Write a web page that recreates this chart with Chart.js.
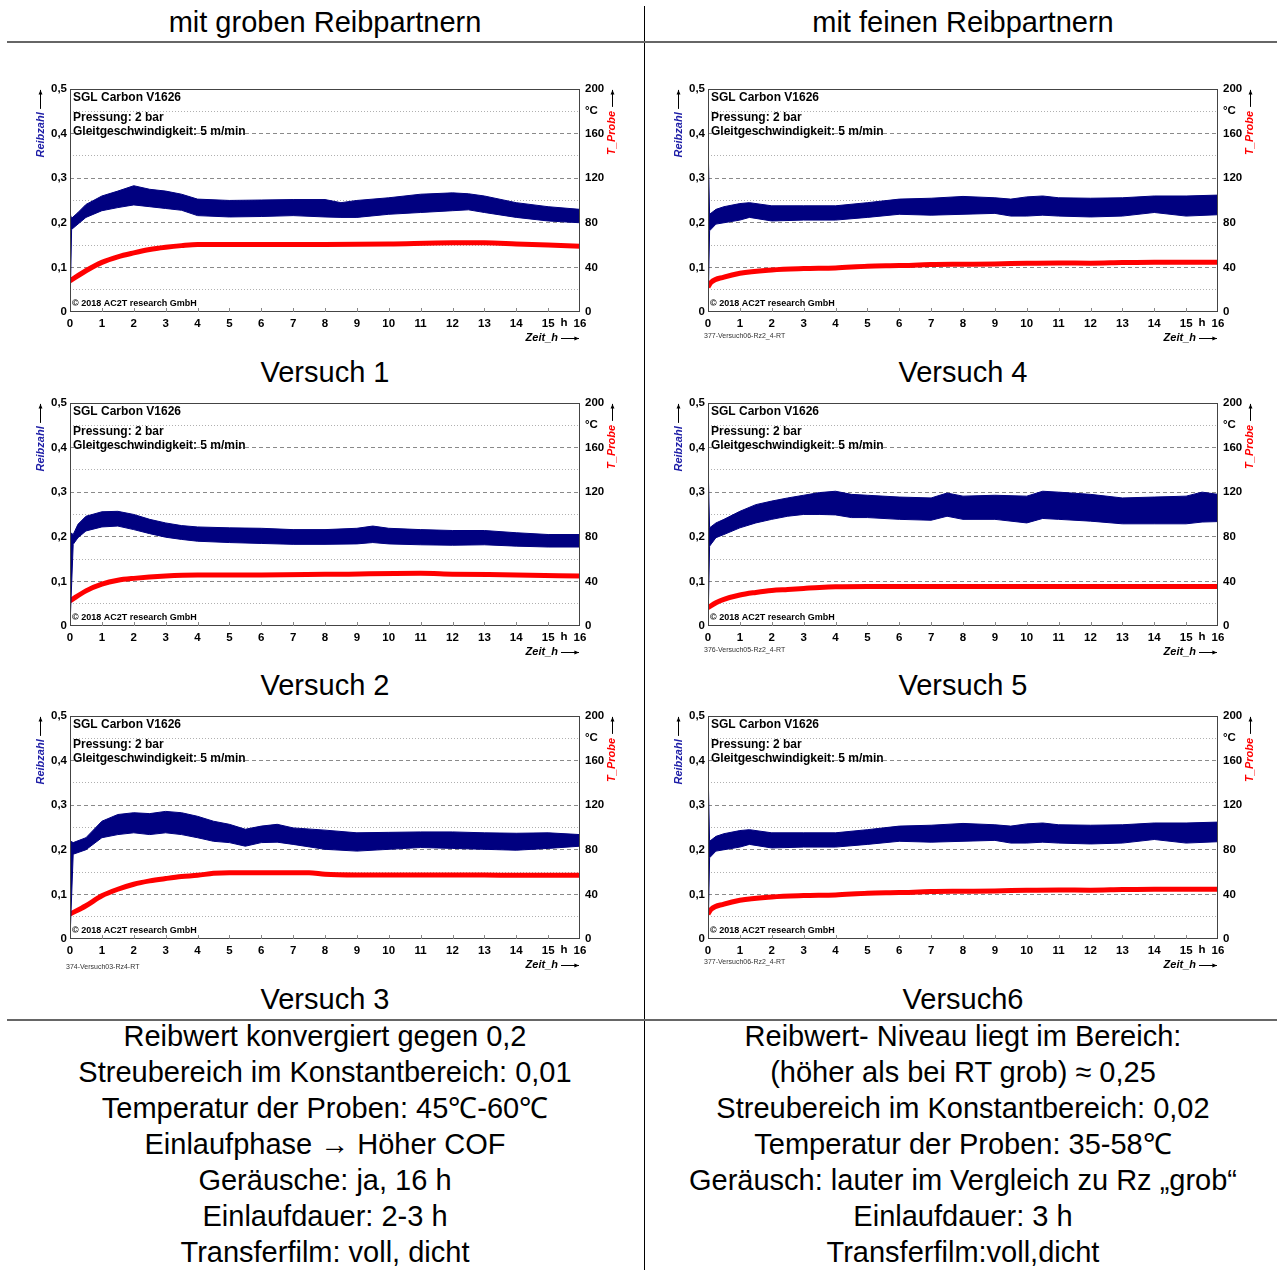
<!DOCTYPE html>
<html>
<head>
<meta charset="utf-8">
<script src="https://cdn.jsdelivr.net/npm/chart.js@4.4.0/dist/chart.umd.min.js"></script>
<style>
  body { margin: 0; background: #fff; font-family: "Liberation Sans", Arial, sans-serif; }
  #seite { position: relative; width: 1277px; height: 1270px; overflow: hidden; }
  .txt { position: absolute; text-align: center; font-size: 29px; line-height: 36px; color: #000; white-space: nowrap; }
  .links { left: 0; width: 650px; }
  .rechts { left: 644px; width: 638px; }
  .box { position: absolute; width: 600px; height: 272px; }
  .linie { position: absolute; background: #666; }
</style>
</head>
<body>
<div id="seite">
  <div class="linie" style="left:644px; top:6px; width:1px; height:1264px; background:#000;"></div>
  <div class="linie" style="left:7px; top:41px; width:1270px; height:2px;"></div>
  <div class="linie" style="left:7px; top:1019px; width:1270px; height:2px;"></div>

  <div class="txt links" style="top:4px;">mit groben Reibpartnern</div>
  <div class="txt rechts" style="top:4px;">mit feinen Reibpartnern</div>

  <div class="box" style="left:30px; top:77px;"><canvas id="v1" width="600" height="272"></canvas></div>
  <div class="box" style="left:30px; top:391px;"><canvas id="v2" width="600" height="272"></canvas></div>
  <div class="box" style="left:30px; top:704px;"><canvas id="v3" width="600" height="272"></canvas></div>
  <div class="box" style="left:668px; top:77px;"><canvas id="v4" width="600" height="272"></canvas></div>
  <div class="box" style="left:668px; top:391px;"><canvas id="v5" width="600" height="272"></canvas></div>
  <div class="box" style="left:668px; top:704px;"><canvas id="v6" width="600" height="272"></canvas></div>

  <div class="txt links" style="top:354px;">Versuch 1</div>
  <div class="txt links" style="top:667px;">Versuch 2</div>
  <div class="txt links" style="top:981px;">Versuch 3</div>
  <div class="txt rechts" style="top:354px;">Versuch 4</div>
  <div class="txt rechts" style="top:667px;">Versuch 5</div>
  <div class="txt rechts" style="top:981px;">Versuch6</div>

  <div class="txt links" style="top:1018px;">
    Reibwert konvergiert gegen 0,2<br>
    Streubereich im Konstantbereich: 0,01<br>
    Temperatur der Proben: 45℃-60℃<br>
    Einlaufphase → Höher COF<br>
    Geräusche: ja, 16 h<br>
    Einlaufdauer: 2-3 h<br>
    Transferfilm: voll, dicht
  </div>
  <div class="txt rechts" style="top:1018px;">
    Reibwert- Niveau liegt im Bereich:<br>
    (höher als bei RT grob) ≈ 0,25<br>
    Streubereich im Konstantbereich: 0,02<br>
    Temperatur der Proben: 35-58℃<br>
    Geräusch: lauter im Vergleich zu Rz „grob“<br>
    Einlaufdauer: 3 h<br>
    Transferfilm:voll,dicht
  </div>
</div>

<script>
// Versuch 1 - Reibzahl (Band oben/unten) und T_Probe in °C, Zeit in h
const zeitV1 = [0, 0.05, 0.25, 0.5, 1, 1.5, 2, 2.5, 3, 3.5, 4, 5, 6, 7, 8, 8.5, 9, 10, 11, 12, 12.5, 13, 14, 15, 16];
const maxV1 = [0.22, 0.21, 0.223, 0.241, 0.26, 0.271, 0.283, 0.275, 0.271, 0.264, 0.253, 0.25, 0.251, 0.252, 0.252, 0.245, 0.25, 0.256, 0.264, 0.267, 0.265, 0.26, 0.245, 0.236, 0.23];
const minV1 = [0, 0.185, 0.197, 0.212, 0.227, 0.234, 0.24, 0.236, 0.232, 0.228, 0.216, 0.213, 0.214, 0.216, 0.213, 0.212, 0.212, 0.219, 0.223, 0.227, 0.229, 0.223, 0.212, 0.204, 0.2];
const tZeitV1 = [0, 0.5, 1, 1.5, 2, 2.5, 3, 3.5, 4, 6, 8, 10, 12, 13, 14, 15, 16];
const tempV1 = [28, 37, 44.5, 49.5, 53, 56, 58, 59.5, 60.5, 60.5, 60.5, 61, 62, 62, 61, 60, 59];

// Versuch 2
const zeitV2 = [0, 0.1, 0.25, 0.5, 1, 1.5, 2, 2.5, 3, 3.5, 4, 5, 6, 7, 8, 9, 9.5, 10, 11, 12, 13, 14, 15, 16];
const maxV2 = [0.21, 0.205, 0.228, 0.246, 0.256, 0.257, 0.25, 0.239, 0.231, 0.225, 0.222, 0.22, 0.219, 0.216, 0.216, 0.219, 0.224, 0.219, 0.216, 0.214, 0.214, 0.209, 0.205, 0.205];
const minV2 = [0, 0.183, 0.198, 0.213, 0.222, 0.224, 0.216, 0.207, 0.199, 0.194, 0.19, 0.187, 0.185, 0.183, 0.183, 0.184, 0.187, 0.184, 0.182, 0.181, 0.182, 0.179, 0.177, 0.177];
const tZeitV2 = [0, 0.5, 1, 1.5, 2, 3, 4, 6, 8, 11, 12, 14, 16];
const tempV2 = [22.5, 31.5, 37.5, 41, 42.7, 44.8, 45.7, 45.8, 46.3, 47.2, 46.5, 45.8, 44.8];

// Versuch 3
const zeitV3 = [0, 0.1, 0.5, 1, 1.5, 2, 2.5, 3, 3.5, 4, 4.5, 5, 5.5, 6, 6.5, 7, 8, 9, 10, 11, 12, 13, 14, 15, 16];
const maxV3 = [0.22, 0.216, 0.227, 0.264, 0.279, 0.283, 0.281, 0.286, 0.283, 0.275, 0.264, 0.257, 0.246, 0.253, 0.257, 0.249, 0.244, 0.238, 0.239, 0.24, 0.24, 0.238, 0.237, 0.238, 0.234];
const minV3 = [0, 0.19, 0.2, 0.227, 0.234, 0.238, 0.234, 0.238, 0.234, 0.227, 0.219, 0.216, 0.208, 0.216, 0.217, 0.212, 0.201, 0.197, 0.201, 0.205, 0.203, 0.201, 0.199, 0.203, 0.208];
const tZeitV3 = [0, 0.5, 1, 1.5, 2, 2.5, 3, 3.5, 4, 4.5, 5, 7.5, 8, 9, 13, 14, 16];
const tempV3 = [22.3, 29.8, 38.7, 44.6, 49.1, 52.1, 54.2, 56, 57.1, 58.9, 59.5, 59.5, 58, 57.4, 57.4, 57.1, 57.1];

// Versuch 4 (Versuch6 zeigt dieselbe Messung)
const zeitV4 = [0, 0.05, 0.25, 0.5, 1, 1.3, 2, 3, 4, 5, 6, 7, 8, 9, 9.5, 10, 10.5, 11, 12, 13, 14, 15, 16];
const maxV4 = [0.386, 0.219, 0.23, 0.236, 0.243, 0.245, 0.238, 0.238, 0.238, 0.245, 0.253, 0.255, 0.259, 0.256, 0.253, 0.258, 0.26, 0.256, 0.255, 0.256, 0.26, 0.26, 0.262];
const minV4 = [0, 0.182, 0.197, 0.2, 0.206, 0.212, 0.204, 0.206, 0.206, 0.212, 0.219, 0.217, 0.219, 0.221, 0.215, 0.215, 0.217, 0.215, 0.213, 0.215, 0.223, 0.215, 0.218];
const tZeitV4 = [0, 0.1, 0.5, 1, 2, 3, 4, 5, 6, 7, 8, 9, 10, 11, 12, 13, 14, 16];
const tempV4 = [22.3, 26.7, 31.2, 34.8, 37.7, 38.9, 39.5, 41, 41.6, 42.5, 42.8, 43.1, 43.7, 44, 43.8, 44.3, 44.6, 44.6];

// Versuch 5
const zeitV5 = [0, 0.05, 0.25, 0.5, 1, 1.5, 2, 2.5, 3, 3.5, 4, 4.5, 5, 6, 7, 7.5, 8, 9, 10, 10.5, 11, 12, 13, 14, 15, 15.5, 16];
const maxV5 = [0.37, 0.22, 0.231, 0.239, 0.257, 0.272, 0.28, 0.287, 0.293, 0.299, 0.302, 0.295, 0.293, 0.289, 0.287, 0.298, 0.291, 0.293, 0.291, 0.302, 0.3, 0.295, 0.287, 0.289, 0.291, 0.3, 0.295];
const minV5 = [0, 0.179, 0.198, 0.205, 0.22, 0.231, 0.239, 0.246, 0.25, 0.25, 0.249, 0.243, 0.243, 0.239, 0.237, 0.246, 0.239, 0.239, 0.231, 0.241, 0.239, 0.235, 0.229, 0.229, 0.229, 0.233, 0.234];
const tZeitV5 = [0, 0.25, 0.5, 1, 1.5, 2, 2.5, 3, 3.5, 4, 5, 16];
const tempV5 = [16.4, 20.9, 23.9, 27.8, 30.1, 31.9, 32.8, 33.7, 34.6, 35.2, 35.5, 35.5];

const blau = '#000080';
const rot = '#ff0000';
const schrift = '"Liberation Sans", Arial, sans-serif';
const tickFont = { family: schrift, size: 11.5, weight: 'bold' };

function punkte(xs, ys) {
  return xs.map((x, i) => ({ x: x, y: ys[i] }));
}

function pfeil(ctx, x1, y1, x2, y2) {
  const w = Math.atan2(y2 - y1, x2 - x1);
  ctx.beginPath();
  ctx.moveTo(x1, y1);
  ctx.lineTo(x2, y2);
  ctx.stroke();
  ctx.beginPath();
  ctx.moveTo(x2, y2);
  ctx.lineTo(x2 - 5 * Math.cos(w - 0.4), y2 - 5 * Math.sin(w - 0.4));
  ctx.lineTo(x2 - 5 * Math.cos(w + 0.4), y2 - 5 * Math.sin(w + 0.4));
  ctx.closePath();
  ctx.fill();
}

// Rahmen, Beschriftungen und Achsentitel
const deko = {
  id: 'deko',
  afterDraw(chart, args, opts) {
    const { ctx, chartArea: a } = chart;
    const x = chart.scales.x;
    ctx.save();
    ctx.strokeStyle = '#444';
    ctx.lineWidth = 1;
    ctx.strokeRect(Math.round(a.left) + 0.5, Math.round(a.top) + 0.5, Math.round(a.width) - 1, Math.round(a.height) - 1);
    ctx.strokeStyle = '#888';
    for (let i = 1; i < 16; i++) {
      const px = Math.round(x.getPixelForValue(i)) + 0.5;
      ctx.beginPath();
      ctx.moveTo(px, a.bottom);
      ctx.lineTo(px, a.bottom - 4);
      ctx.stroke();
    }

    ctx.fillStyle = '#000';
    ctx.textBaseline = 'middle';
    ctx.textAlign = 'left';
    ctx.font = 'bold 12px ' + schrift;
    ctx.fillText('SGL Carbon V1626', a.left + 3, a.top + 9);
    ctx.fillText('Pressung: 2 bar', a.left + 3, a.top + 29);
    ctx.fillText('Gleitgeschwindigkeit: 5 m/min', a.left + 3, a.top + 43);
    ctx.font = 'bold 9px ' + schrift;
    ctx.fillText('© 2018 AC2T research GmbH', a.left + 2, a.bottom - 8);

    ctx.font = 'bold 11.5px ' + schrift;
    ctx.textAlign = 'center';
    ctx.fillText('h', a.right - 16, a.bottom + 11);

    ctx.font = 'italic bold 11px ' + schrift;
    ctx.textAlign = 'right';
    ctx.fillText('Zeit_h', a.right - 22, a.bottom + 26);
    ctx.strokeStyle = '#000';
    pfeil(ctx, a.right - 19, a.bottom + 26.5, a.right - 1, a.bottom + 26.5);

    ctx.textAlign = 'center';
    ctx.save();
    ctx.translate(a.left - 29, a.top + 46);
    ctx.rotate(-Math.PI / 2);
    ctx.fillStyle = '#1c1ca6';
    ctx.fillText('Reibzahl', 0, 0);
    ctx.restore();
    pfeil(ctx, a.left - 29.5, a.top + 20, a.left - 29.5, a.top + 1);

    ctx.save();
    ctx.translate(a.right + 32, a.top + 44);
    ctx.rotate(-Math.PI / 2);
    ctx.fillStyle = rot;
    ctx.fillText('T_Probe', 0, 0);
    ctx.restore();
    ctx.fillStyle = '#000';
    pfeil(ctx, a.right + 32.5, a.top + 18, a.right + 32.5, a.top + 1);

    if (opts.datei) {
      ctx.font = '7px ' + schrift;
      ctx.fillStyle = '#333';
      ctx.textAlign = 'left';
      ctx.fillText(opts.datei, a.left - 4, a.bottom + opts.dy);
    }
    ctx.restore();
  }
};

function hundertstel(v) {
  return Math.round(v * 100);
}

function diagramm(id, zeit, max, min, tZeit, temp, datei, dy) {
  new Chart(document.getElementById(id), {
    type: 'line',
    data: {
      datasets: [{
        label: 'Reibzahl max',
        data: punkte(zeit, max),
        yAxisID: 'y',
        borderColor: blau,
        borderWidth: 1,
        pointRadius: 0,
        fill: false
      }, {
        label: 'Reibzahl min',
        data: punkte(zeit, min),
        yAxisID: 'y',
        borderColor: blau,
        backgroundColor: blau,
        borderWidth: 1,
        pointRadius: 0,
        fill: '-1'
      }, {
        label: 'T_Probe',
        data: punkte(tZeit, temp),
        yAxisID: 'y2',
        borderColor: rot,
        borderWidth: 5,
        pointRadius: 0,
        fill: false,
        cubicInterpolationMode: 'monotone'
      }]
    },
    options: {
      responsive: false,
      animation: false,
      layout: { padding: { top: 10 } },
      plugins: {
        legend: { display: false },
        tooltip: { enabled: false },
        deko: { datei: datei, dy: dy }
      },
      scales: {
        x: {
          type: 'linear',
          min: 0,
          max: 16,
          grid: { display: false, drawTicks: false },
          border: { display: false },
          ticks: { stepSize: 1, autoSkip: false, maxRotation: 0, padding: 5, color: '#000', font: tickFont },
          afterFit: s => { s.height = 37; }
        },
        y: {
          position: 'left',
          min: 0,
          max: 0.5,
          grid: {
            drawTicks: false,
            color: c => {
              const v = hundertstel(c.tick.value);
              if (v === 0 || v === 50) return 'rgba(0,0,0,0)';
              return v % 10 === 0 ? '#8a8a8a' : '#b0b0b0';
            }
          },
          border: {
            display: false,
            dash: c => (c.tick ? (hundertstel(c.tick.value) % 10 === 0 ? [4, 3] : [1, 2]) : [])
          },
          ticks: {
            stepSize: 0.05,
            autoSkip: false,
            padding: 3,
            color: '#000',
            font: tickFont,
            callback: v => {
              const h = hundertstel(v);
              if (h % 10 !== 0) return '';
              return h === 0 ? '0' : '0,' + h / 10;
            }
          },
          afterFit: s => { s.width = 40; }
        },
        y2: {
          position: 'right',
          min: 0,
          max: 200,
          grid: { display: false, drawTicks: false },
          border: { display: false },
          ticks: {
            stepSize: 20,
            autoSkip: false,
            padding: 5,
            color: '#000',
            font: tickFont,
            callback: v => (v === 180 ? '°C' : (v % 40 === 0 ? v : ''))
          },
          afterFit: s => { s.width = 50; }
        }
      }
    },
    plugins: [deko]
  });
}

diagramm('v1', zeitV1, maxV1, minV1, tZeitV1, tempV1, '', 0);
diagramm('v2', zeitV2, maxV2, minV2, tZeitV2, tempV2, '', 0);
diagramm('v3', zeitV3, maxV3, minV3, tZeitV3, tempV3, '374-Versuch03-Rz4-RT', 28);
diagramm('v4', zeitV4, maxV4, minV4, tZeitV4, tempV4, '377-Versuch06-Rz2_4-RT', 24);
diagramm('v5', zeitV5, maxV5, minV5, tZeitV5, tempV5, '376-Versuch05-Rz2_4-RT', 24);
diagramm('v6', zeitV4, maxV4, minV4, tZeitV4, tempV4, '377-Versuch06-Rz2_4-RT', 23);
</script>
</body>
</html>
